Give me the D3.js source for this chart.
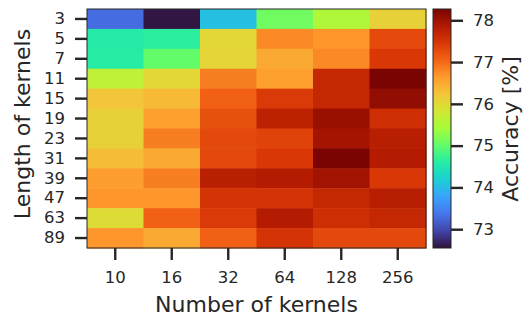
<!DOCTYPE html>
<html>
<head>
<meta charset="utf-8">
<script src="https://cdn.jsdelivr.net/npm/d3@7"></script>
<style>
  body { margin: 0; background: #fff; }
  text { font-family: "DejaVu Sans", sans-serif; fill: #262626; }
</style>
</head>
<body>
<div id="chart"></div>
<script>
// Data
const numKernels = ["10", "16", "32", "64", "128", "256"];
const kernelLengths = ["3", "5", "7", "11", "15", "19", "23", "31", "39", "47", "63", "89"];
// one row per kernel length, columns follow numKernels
const accuracy = [
    [73.29, 72.58, 74.05, 75.09, 75.52, 76.10],
    [74.58, 74.64, 76.03, 76.76, 76.67, 77.28],
    [74.61, 75.01, 76.06, 76.49, 76.76, 77.45],
    [75.66, 76.03, 76.84, 76.59, 77.67, 78.27],
    [76.24, 76.34, 77.07, 77.43, 77.67, 78.09],
    [76.10, 76.59, 77.21, 77.75, 78.04, 77.58],
    [76.10, 76.84, 77.30, 77.35, 77.96, 77.79],
    [76.31, 76.49, 77.30, 77.45, 78.27, 77.83],
    [76.61, 76.84, 77.77, 77.83, 77.97, 77.45],
    [76.67, 76.67, 77.50, 77.50, 77.67, 77.79],
    [75.96, 77.07, 77.43, 77.83, 77.58, 77.67],
    [76.67, 76.49, 77.07, 77.50, 77.30, 77.30]
];
const colorbarTicks = [73, 74, 75, 76, 77, 78];
const colorDomain = [72.55, 78.27];
// matplotlib-style turbo, sampled stops
const turboStops = ["#30123b", "#4145ab", "#4675ed", "#39a2fc", "#1bcfd4", "#24eca6", "#61fc6c",
    "#a4fc3b", "#d1e834", "#f3c63a", "#fe9b2d", "#f36315", "#d93806", "#b11901", "#7a0402"];

const W = 523, H = 320;
const plot = { left: 87, top: 9, width: 339, height: 239 };
const cbar = { left: 433, width: 18 };

const turbo = d3.piecewise(d3.interpolateRgb, turboStops);

const svg = d3.select("#chart").append("svg")
    .attr("width", W)
    .attr("height", H);

// Scales
const x = d3.scaleBand().domain(numKernels).range([plot.left, plot.left + plot.width]);
const y = d3.scaleBand().domain(kernelLengths).range([plot.top, plot.top + plot.height]);
const color = d3.scaleSequential(turbo).domain(colorDomain).clamp(true);

// Flatten into cells
let cells = [];
accuracy.forEach((row, i) => {
    row.forEach((v, j) => {
        cells.push({ len: kernelLengths[i], num: numKernels[j], value: v });
    });
});

svg.append("g").selectAll("rect")
    .data(cells)
    .enter().append("rect")
    .attr("x", d => x(d.num))
    .attr("y", d => y(d.len))
    .attr("width", x.bandwidth() + 0.5)
    .attr("height", y.bandwidth() + 0.5)
    .attr("fill", d => color(d.value));

svg.append("rect")
    .attr("x", plot.left).attr("y", plot.top)
    .attr("width", plot.width).attr("height", plot.height)
    .attr("fill", "none").attr("stroke", "#262626").attr("stroke-width", 1);

function styleAxis(g) {
    g.select(".domain").remove();
    g.selectAll(".tick line").attr("stroke", "#262626").attr("stroke-width", 2.4);
    g.selectAll(".tick text")
        .style("font-family", "DejaVu Sans, sans-serif")
        .style("font-size", "16.5px")
        .attr("fill", "#262626");
}

// x-axis
svg.append("g")
    .attr("transform", `translate(0, ${plot.top + plot.height})`)
    .call(d3.axisBottom(x).tickSize(12).tickPadding(11))
    .call(styleAxis);

// y-axis
svg.append("g")
    .attr("transform", `translate(${plot.left}, 0)`)
    .call(d3.axisLeft(y).tickSize(12).tickPadding(10))
    .call(styleAxis);

// axis titles
svg.append("text")
    .attr("x", plot.left + plot.width / 2)
    .attr("y", 312)
    .attr("text-anchor", "middle")
    .style("font-size", "22px")
    .text("Number of kernels");

svg.append("text")
    .attr("transform", `translate(30, 124) rotate(-90)`)
    .attr("text-anchor", "middle")
    .style("font-size", "22px")
    .text("Length of kernels");

// Colorbar
const cy = d3.scaleLinear().domain(colorDomain).range([plot.top + plot.height, plot.top]);
const defs = svg.append("defs");
const grad = defs.append("linearGradient")
    .attr("id", "cbgrad")
    .attr("x1", 0).attr("y1", 1).attr("x2", 0).attr("y2", 0);
d3.range(0, 1.0001, 0.02).forEach(t => {
    grad.append("stop")
        .attr("offset", t)
        .attr("stop-color", turbo(t));
});
svg.append("rect")
    .attr("x", cbar.left).attr("y", plot.top)
    .attr("width", cbar.width).attr("height", plot.height)
    .attr("fill", "url(#cbgrad)")
    .attr("stroke", "#262626").attr("stroke-width", 1);

svg.append("g")
    .attr("transform", `translate(${cbar.left + cbar.width}, 0)`)
    .call(d3.axisRight(cy).tickValues(colorbarTicks).tickSize(12).tickPadding(10).tickFormat(d3.format("d")))
    .call(styleAxis);

svg.append("text")
    .attr("transform", `translate(518, 129) rotate(-90)`)
    .attr("text-anchor", "middle")
    .style("font-size", "22px")
    .text("Accuracy [%]");
</script>
</body>
</html>
